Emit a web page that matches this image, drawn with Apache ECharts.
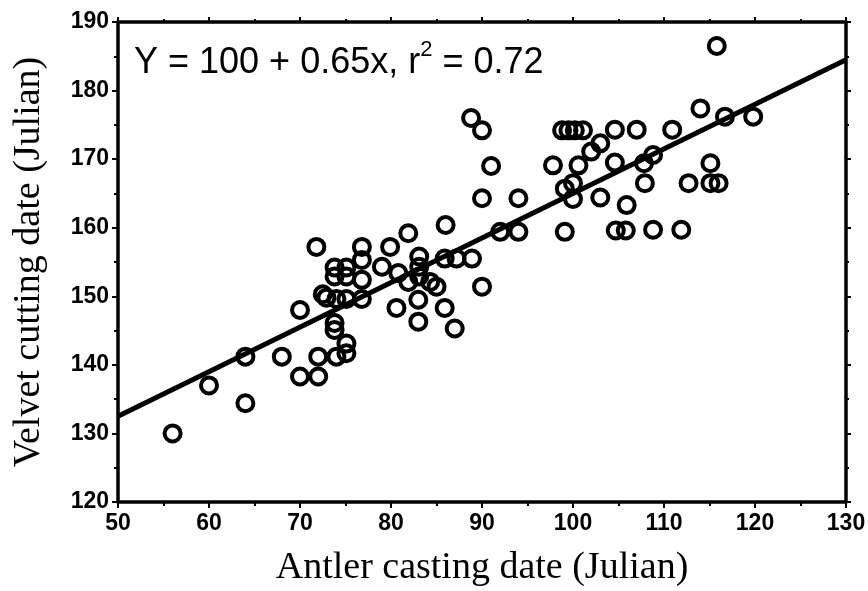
<!DOCTYPE html>
<html>
<head>
<meta charset="utf-8">
<script src="https://cdn.jsdelivr.net/npm/echarts@6/dist/echarts.min.js"></script>
<style>html,body{margin:0;padding:0;background:#fff}#c{width:868px;height:591px}</style>
</head>
<body>
<div id="c"></div>
<script>
// Antler casting date (x) vs velvet cutting date (y), Julian days
const castingDate = [
  56,60,64,64,68,70,70,72,72,74,75.1,75.1,73.8,73.8,
  72.9,72.5,74,75.1,76.8,73.8,75.1,73.8,75.1,76.8,76.8,76.8,71.8,79,79.9,80.8,80.6,81.9,81.9,
  83.1,83.1,83.1,83,83,84.3,85,85.9,87.2,88.9,85.9,87,86,90,
  88.8,90,91,90,94,92,94,97.8,98.8,99.5,100.2,101.1,99.1,100,100,100.6,99.1,102,103,103,
  104.6,104.6,104.7,105.8,105.9,107,107.8,108.8,107.9,108.8,110.9,111.9,112.7,114,115.1,115.1,116,
  115.8,116.7,119.8
];
const cuttingDate = [
  130,137,134.4,141.2,141.2,148,138.3,138.3,141.2,141.2,141.7,143.1,145.1,146.1,
  149.8,150.3,149.6,149.6,149.6,152.9,152.9,154.2,154.2,152.4,155.3,157.2,157.2,154.3,157.2,153.4,148.3,159.2,152.1,
  155.8,154.3,152.9,149.5,146.3,152.1,151.4,155.5,155.5,155.5,148.3,145.3,160.4,151.4,
  176,174.2,169,164.3,164.3,159.4,159.4,169.1,174.2,174.2,174.2,174.2,165.7,166.5,164.2,169.1,159.4,171.1,172.3,164.4,
  174.3,169.5,159.6,159.6,163.3,174.3,169.4,170.6,166.5,159.7,174.3,159.7,166.5,177.4,169.4,166.5,166.5,
  186.5,176.2,176.2
];
// Regression line end points (Y = 100 + 0.65x)
const fitX = [50, 130];
const fitY = [132.5, 184.5];
const xTicks = [50,60,70,80,90,100,110,120,130];
const yTicks = [120,130,140,150,160,170,180,190];
const equationText = ['Y = 100 + 0.65x, r', '2', ' = 0.72'];

const points = castingDate.map((x, i) => [x, cuttingDate[i]]);
const fitLine = fitX.map((x, i) => [x, fitY[i]]);

const axisLine = { show: true, onZero: false, lineStyle: { color: '#000', width: 3.5 } };
const labelFont = { color: '#000', fontFamily: 'Liberation Sans, Arial, sans-serif', fontWeight: 'bold', fontSize: 23 };
const titleFont = { color: '#000', fontFamily: 'Liberation Serif, Times New Roman, serif', fontSize: 38 };

const chart = echarts.init(document.getElementById('c'), null, { renderer: 'canvas' });
chart.setOption({
  animation: false,
  backgroundColor: '#fff',
  grid: { left: 118, right: 22, top: 22, bottom: 89, containLabel: false, outerBoundsMode: 'none' },
  xAxis: [
    {
      type: 'value', min: xTicks[0], max: xTicks[xTicks.length - 1], interval: 10,
      axisLine, splitLine: { show: false },
      axisTick: { show: true, length: 6, lineStyle: { color: '#000', width: 2 } },
      minorTick: { show: true, splitNumber: 2, length: 4, lineStyle: { color: '#000', width: 2 } },
      axisLabel: Object.assign({ margin: 10 }, labelFont),
      name: 'Antler casting date (Julian)', nameLocation: 'middle', nameGap: 47,
      nameTextStyle: titleFont
    },
    {
      type: 'value', position: 'top', min: xTicks[0], max: xTicks[xTicks.length - 1], interval: 10,
      axisLine, splitLine: { show: false }, axisLabel: { show: false },
      axisTick: { show: true, length: 5, lineStyle: { color: '#000', width: 2 } },
      minorTick: { show: true, splitNumber: 2, length: 3, lineStyle: { color: '#000', width: 2 } }
    }
  ],
  yAxis: [
    {
      type: 'value', min: yTicks[0], max: yTicks[yTicks.length - 1], interval: 10,
      axisLine, splitLine: { show: false },
      axisTick: { show: true, length: 6, lineStyle: { color: '#000', width: 2 } },
      minorTick: { show: true, splitNumber: 2, length: 4, lineStyle: { color: '#000', width: 2 } },
      axisLabel: Object.assign({ margin: 9 }, labelFont),
      name: 'Velvet cutting date (Julian)', nameLocation: 'middle', nameGap: 70,
      nameTextStyle: titleFont
    },
    {
      type: 'value', position: 'right', min: yTicks[0], max: yTicks[yTicks.length - 1], interval: 10,
      axisLine, splitLine: { show: false }, axisLabel: { show: false },
      axisTick: { show: true, length: 5, lineStyle: { color: '#000', width: 2 } },
      minorTick: { show: true, splitNumber: 2, length: 3, lineStyle: { color: '#000', width: 2 } }
    }
  ],
  series: [
    {
      type: 'line', data: fitLine, symbol: 'none', z: 2,
      lineStyle: { color: '#000', width: 5 }
    },
    {
      type: 'scatter', data: points, symbol: 'circle', symbolSize: 16, z: 3,
      itemStyle: { color: 'rgba(0,0,0,0)', borderColor: '#000', borderWidth: 4, opacity: 1 }
    }
  ],
  graphic: [
    {
      type: 'text', left: 134, top: 39,
      style: {
        text: '{a|' + equationText[0] + '}{s|' + equationText[1] + '}{a|' + equationText[2] + '}',
        rich: {
          a: { fontFamily: 'Liberation Sans, Arial, sans-serif', fontSize: 36, fill: '#000', verticalAlign: 'bottom', lineHeight: 42 },
          s: { fontFamily: 'Liberation Sans, Arial, sans-serif', fontSize: 22, fill: '#000', verticalAlign: 'top', lineHeight: 42, padding: [0, 0, 17, 0] }
        }
      }
    }
  ]
});
</script>
</body>
</html>
